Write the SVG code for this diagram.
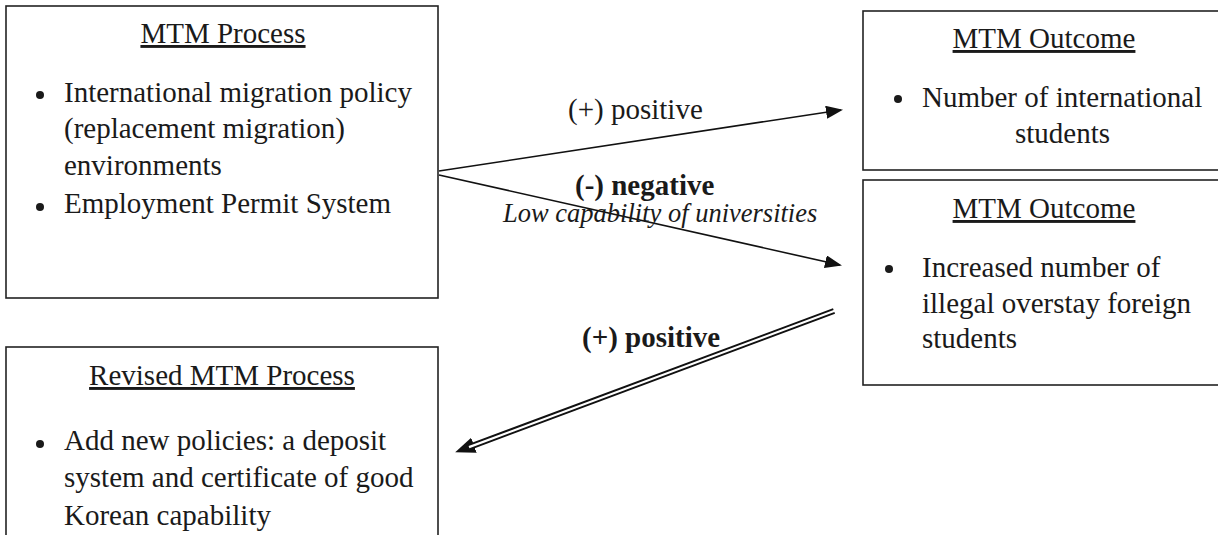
<svg xmlns="http://www.w3.org/2000/svg" width="1218" height="535" viewBox="0 0 1218 535">
<style>
.box{fill:#fff;stroke:#222;stroke-width:1.6}
.t{font-family:"Liberation Serif","Times New Roman",serif;font-size:29px;fill:#1a1a1a}
.h{text-anchor:middle;text-decoration:underline}
.b{font-weight:bold}
.i{font-style:italic;font-size:26.5px}
.bul{fill:#1a1a1a}
.ln{stroke:#111;stroke-width:1.6;fill:none}
</style>
<defs>
<marker id="ah" markerUnits="userSpaceOnUse" markerWidth="18" markerHeight="14" refX="15" refY="6.5" orient="auto">
<path d="M0,0 L17,6.5 L0,13 z" fill="#111"/>
</marker>
<marker id="ah2" markerUnits="userSpaceOnUse" markerWidth="22" markerHeight="18" refX="1" refY="8" orient="auto">
<path d="M0,0 L20,8 L0,16 z" fill="#111"/>
</marker>
</defs>
<rect width="1218" height="535" fill="#fff"/>
<g id="mtm-process">
<rect class="box" x="6" y="6" width="432" height="292"/>
<text class="t h" x="223" y="43">MTM Process</text>
<circle class="bul" cx="40" cy="95" r="4"/>
<text class="t" x="64" y="102">International migration policy</text>
<text class="t" x="64" y="138">(replacement migration)</text>
<text class="t" x="64" y="175">environments</text>
<circle class="bul" cx="40" cy="207" r="4"/>
<text class="t" x="64" y="213">Employment Permit System</text>
</g>
<g id="revised-process">
<rect class="box" x="6" y="347" width="432" height="200"/>
<text class="t h" x="222" y="385">Revised MTM Process</text>
<circle class="bul" cx="40" cy="444" r="4"/>
<text class="t" x="64" y="450">Add new policies: a deposit</text>
<text class="t" x="64" y="487">system and certificate of good</text>
<text class="t" x="64" y="525">Korean capability</text>
</g>
<g id="outcome-1">
<rect class="box" x="863" y="11" width="400" height="159"/>
<text class="t h" x="1044" y="48">MTM Outcome</text>
<circle class="bul" cx="898" cy="99" r="4"/>
<text class="t" x="922" y="107">Number of international</text>
<text class="t" x="1015" y="143">students</text>
</g>
<g id="outcome-2">
<rect class="box" x="863" y="180" width="400" height="205"/>
<text class="t h" x="1044" y="218">MTM Outcome</text>
<circle class="bul" cx="889" cy="269" r="4"/>
<text class="t" x="922" y="277">Increased number of</text>
<text class="t" x="922" y="313">illegal overstay foreign</text>
<text class="t" x="922" y="348">students</text>
</g>
<g id="connectors">
<line class="ln" x1="439" y1="171" x2="841" y2="110" marker-end="url(#ah)"/>
<line class="ln" x1="439" y1="175" x2="840" y2="265" marker-end="url(#ah)"/>
<line x1="834" y1="311" x2="473" y2="445.6" stroke="#111" stroke-width="6" marker-end="url(#ah2)"/>
<line x1="836" y1="310.3" x2="469" y2="447.1" stroke="#fff" stroke-width="2.2"/>
<text class="t" x="568" y="119">(+) positive</text>
<text class="t b" x="575" y="195">(-) negative</text>
<text class="t i" x="503" y="222">Low capability of universities</text>
<text class="t b" x="582" y="347">(+) positive</text>
</g>
</svg>
